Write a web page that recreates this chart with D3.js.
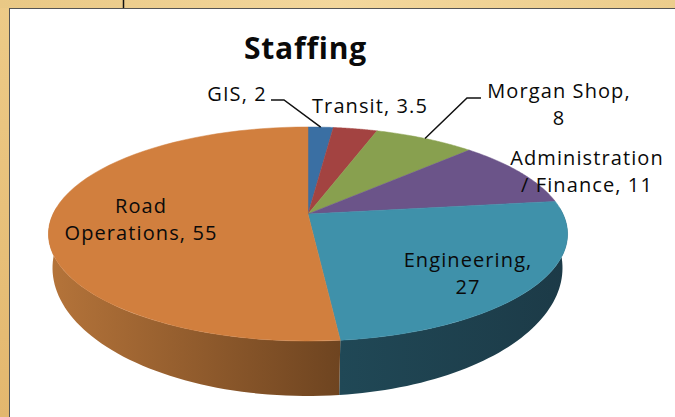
<!DOCTYPE html>
<html>
<head>
<meta http-equiv="Content-Type" content="text/html; charset=UTF-8">
<style>
html, body { margin: 0; padding: 0; background: #fff; }
svg { display: block; }
text { font-family: "Open Sans", sans-serif; fill: #0a0a0a; }
</style>
</head>
<body>

<div class="container"></div>

<script src="https://cdn.jsdelivr.net/npm/d3@7"></script>
<script>

var categories = ["GIS", "Transit", "Morgan Shop", "Administration / Finance", "Engineering", "Road Operations"];
var values = [2, 3.5, 8, 11, 27, 55];
var fillColors = ["#3a6fa3", "#a34341", "#88a04f", "#6b5489", "#3f91aa", "#d17f3e"];
// two wall shades for each slice: left end and right end of the gradient
var wallLeft = ["#000", "#000", "#000", "#000", "#204856", "#b5743a"];
var wallRight = ["#000", "#000", "#000", "#000", "#1c3a47", "#6e4420"];

var labelLines = [
    ["GIS, 2"],
    ["Transit, 3.5"],
    ["Morgan Shop,", "8"],
    ["Administration", "/ Finance, 11"],
    ["Engineering,", "27"],
    ["Road", "Operations, 55"]
];

var width = 675;
var height = 417;
var tau = 2 * Math.PI;

var svg = d3.select(".container")
            .append("svg")
                .attr("width", width)
                .attr("height", height);

var defs = svg.append("defs");

// tan slide background behind the white chart panel
var bg = defs.append("linearGradient")
             .attr("id", "bg")
             .attr("gradientUnits", "userSpaceOnUse")
             .attr("x1", 0).attr("y1", 0).attr("x2", 0).attr("y2", height);
bg.append("stop").attr("offset", 0).attr("stop-color", "#edcb88");
bg.append("stop").attr("offset", 1).attr("stop-color", "#e3b76e");

var topBand = defs.append("linearGradient")
                  .attr("id", "topBand")
                  .attr("gradientUnits", "userSpaceOnUse")
                  .attr("x1", 0).attr("y1", 0).attr("x2", width).attr("y2", 0);
topBand.append("stop").attr("offset", 0).attr("stop-color", "#e9c885");
topBand.append("stop").attr("offset", 0.5).attr("stop-color", "#f3d79c");
topBand.append("stop").attr("offset", 1).attr("stop-color", "#eccd8c");

svg.append("rect").attr("width", width).attr("height", height).attr("fill", "url(#bg)");
svg.append("rect").attr("width", width).attr("height", 8).attr("fill", "url(#topBand)");
svg.append("line")
   .attr("x1", 123.5).attr("x2", 123.5).attr("y1", 0).attr("y2", 8)
   .attr("stroke", "#111").attr("stroke-width", 1.5);
svg.append("rect")
   .attr("x", 9.5).attr("y", 8.5)
   .attr("width", width).attr("height", height)
   .attr("fill", "#fff")
   .attr("stroke", "#555");

svg.append("text")
   .attr("x", 305.5).attr("y", 59)
   .attr("text-anchor", "middle")
   .style("font-size", "30px")
   .style("font-weight", 700)
   .style("letter-spacing", "0.8px")
   .text("Staffing");

// Perspective view of a flat disc: angle on the pie -> point on the screen.
function projector(cx, cy, sx, sy, k) {
    return function(angle) {
        var u = Math.sin(angle), v = Math.cos(angle);
        return [cx + sx * u / (1 + k * v), cy - sy * v / (1 + k * v)];
    };
}
var topFace = projector(308, 214, 255, 103.3, 0.187);
var bottomFace = projector(307.5, 244, 250.5, 123.6, 0.187);

var pie = d3.pie().sort(null).value(function(d) { return d; })(values);
var line = d3.line();

function arcPoints(face, a0, a1) {
    return d3.range(0, 61).map(function(i) {
        return face(a0 + (a1 - a0) * i / 60);
    });
}

// walls first; only the front slices can be seen, from the right tangent round to the left one
var wallStart = 0.24 * tau;
var wallEnd = 0.76 * tau;
pie.forEach(function(d, i) {
    var a0 = Math.max(d.startAngle, wallStart);
    var a1 = Math.min(d.endAngle, wallEnd);
    if (a1 <= a0) return;
    var upper = arcPoints(topFace, a0, a1);
    var lower = arcPoints(bottomFace, a0, a1).reverse();
    var x0 = d3.min(upper.concat(lower), function(p) { return p[0]; });
    var x1 = d3.max(upper.concat(lower), function(p) { return p[0]; });
    var grad = defs.append("linearGradient")
                   .attr("id", "wall" + i)
                   .attr("gradientUnits", "userSpaceOnUse")
                   .attr("x1", x0).attr("x2", x1).attr("y1", 0).attr("y2", 0);
    grad.append("stop").attr("offset", 0).attr("stop-color", wallLeft[i]);
    grad.append("stop").attr("offset", 1).attr("stop-color", wallRight[i]);
    svg.append("path")
       .attr("d", line(upper.concat(lower)) + "Z")
       .attr("fill", "url(#wall" + i + ")");
});

// top face of the pie
var apex = [308, 214];
svg.selectAll("path.slice")
   .data(pie)
   .enter().append("path")
       .attr("class", "slice")
       .attr("d", function(d) {
           return line([apex].concat(arcPoints(topFace, d.startAngle, d.endAngle))) + "Z";
       })
       .attr("fill", function(d, i) { return fillColors[i]; })
       .attr("stroke", function(d, i) { return fillColors[i]; })
       .attr("stroke-width", 0.5);

// leader lines for the two slices with outside labels
function leader(i, points) {
    var mid = topFace((pie[i].startAngle + pie[i].endAngle) / 2);
    svg.append("path")
       .attr("d", line(points.concat([mid])))
       .attr("fill", "none")
       .attr("stroke", "#111")
       .attr("stroke-width", 1.5);
}
leader(0, [[271, 100], [284, 100]]);
leader(2, [[481, 98], [467, 98]]);

// label anchor for each slice: middle x, first baseline
var labelX = [237, 370, 559, 587, 468, 141];
var labelY = [101, 113, 98, 165, 267, 213];
var lineStep = 27;

labelLines.forEach(function(lines, i) {
    lines.forEach(function(s, j) {
        svg.append("text")
           .attr("x", labelX[i])
           .attr("y", labelY[i] + j * lineStep)
           .attr("text-anchor", "middle")
           .style("font-size", "20px")
           .style("letter-spacing", "1.1px")
           .text(s);
    });
});

</script>
</body>
</html>
